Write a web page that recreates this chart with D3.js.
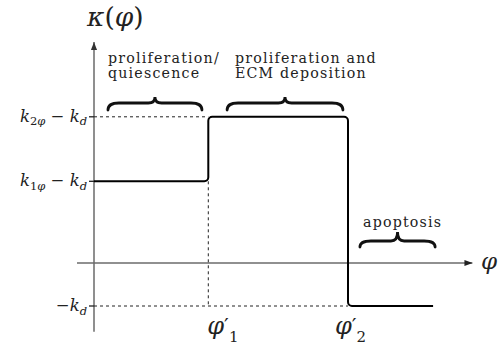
<!DOCTYPE html>
<html>
<head>
<meta charset="utf-8">
<script src="https://cdn.jsdelivr.net/npm/d3@7"></script>
<style>
  html, body { margin: 0; padding: 0; background: #fff; }
  svg { display: block; }
</style>
</head>
<body>
<svg id="chart" width="498" height="350"></svg>
<script>
// Piecewise growth-rate kappa(phi): levels and switch points
const kd = 1.0;
const k1 = 2.9;
const k2 = 4.4;
const phi1 = 0.45;
const phi2 = 1.0;
const phiEnd = 1.335;

// Curve breakpoints [phi, kappa]
const curvePhi = [0, phi1, phi1, phi2, phi2, phiEnd];
const curveKappa = [k1 - kd, k1 - kd, k2 - kd, k2 - kd, -kd, -kd];

// Labelled levels on the vertical axis: [text, style]
const levelValues = [k2 - kd, k1 - kd, -kd];
const levelLabels = [
  [["k", "i"], ["2", "sub"], ["φ", "subi"], [" − ", "r"], ["k", "i"], ["d", "subi"]],
  [["k", "i"], ["1", "sub"], ["φ", "subi"], [" − ", "r"], ["k", "i"], ["d", "subi"]],
  [["−", "r"], ["k", "i"], ["d", "subi"]]
];

// Phases annotated with braces
const phaseNames = [["proliferation/", "quiescence"], ["proliferation and", "ECM deposition"], ["apoptosis"]];
const phaseStart = [0.055, 0.524, 1.047];
const phaseEnd = [0.425, 0.980, 1.343];

const svg = d3.select("#chart");
const x = d3.scaleLinear().domain([0, 1]).range([94, 348]);
const y = d3.scaleLinear().domain([-1, 0]).range([306, 263]);

const serif = "'DejaVu Serif', 'Liberation Serif', serif";

// arrow markers
const defs = svg.append("defs");
function marker(id, color) {
  defs.append("marker")
    .attr("id", id).attr("viewBox", "0 0 10 10")
    .attr("refX", 10).attr("refY", 5)
    .attr("markerWidth", 8).attr("markerHeight", 8)
    .attr("markerUnits", "userSpaceOnUse")
    .attr("orient", "auto")
    .append("path").attr("d", "M0,1.2 L10,5 L0,8.8 Z").attr("fill", color);
}
marker("arrX", "#222");
marker("arrY", "#333");

// axes
svg.append("line")
  .attr("x1", x(-0.067)).attr("x2", x(1.49))
  .attr("y1", y(0)).attr("y2", y(0))
  .attr("stroke", "#222").attr("stroke-width", 1.2)
  .attr("marker-end", "url(#arrX)");
svg.append("line")
  .attr("x1", x(0)).attr("x2", x(0))
  .attr("y1", y(-1.6)).attr("y2", y(5.14))
  .attr("stroke", "#6a6a6a").attr("stroke-width", 1.5)
  .attr("marker-end", "url(#arrY)");

// dashed guides
function dline(x1, y1, x2, y2) {
  svg.append("line").attr("x1", x1).attr("y1", y1).attr("x2", x2).attr("y2", y2)
    .attr("stroke", "#222").attr("stroke-width", 1).attr("stroke-dasharray", "3,3");
}
dline(x(0), y(k2 - kd), x(phi1), y(k2 - kd));
dline(x(phi1), y(k1 - kd), x(phi1), y(-kd));
dline(x(0), y(-kd), x(phi2), y(-kd));

// ticks on the vertical axis
levelValues.forEach(v => {
  svg.append("line")
    .attr("x1", x(0) - 5).attr("x2", x(0))
    .attr("y1", y(v)).attr("y2", y(v))
    .attr("stroke", "#222").attr("stroke-width", 1.3);
});

// kappa(phi) with rounded corners
const pts = curvePhi.map((p, i) => [x(p), y(curveKappa[i])]);
const path = d3.path();
path.moveTo(pts[0][0], pts[0][1]);
for (let i = 1; i < pts.length - 1; i++) {
  path.arcTo(pts[i][0], pts[i][1], pts[i + 1][0], pts[i + 1][1], 4);
}
path.lineTo(pts[pts.length - 1][0], pts[pts.length - 1][1]);
svg.append("path").attr("d", path.toString())
  .attr("fill", "none").attr("stroke", "#000").attr("stroke-width", 2);

// level labels
levelLabels.forEach((parts, i) => {
  const t = svg.append("text")
    .attr("x", x(0) - 7).attr("y", y(levelValues[i]) + 5)
    .attr("text-anchor", "end")
    .attr("font-family", serif).attr("fill", "#222");
  let low = false;
  parts.forEach(([s, kind]) => {
    const ts = t.append("tspan").text(s);
    const isSub = kind.startsWith("sub");
    if (isSub) {
      ts.attr("font-size", 11.5).attr("dy", low ? 0 : 3.5);
      low = true;
    } else {
      ts.attr("font-size", 16.5).attr("dy", low ? -3.5 : 0);
      low = false;
    }
    ts.attr("font-style", (kind === "i" || kind === "subi") ? "italic" : "normal");
  });
});

// phase braces and captions
function brace(x1, x2, yEnd, yBand, yTip) {
  const xm = (x1 + x2) / 2, r = Math.min(11, (x2 - x1) / 6);
  return `M${x1},${yEnd} Q${x1},${yBand} ${x1 + r},${yBand} L${xm - r * 0.6},${yBand} Q${xm},${yBand} ${xm},${yTip} ` +
         `Q${xm},${yBand} ${xm + r * 0.6},${yBand} L${x2 - r},${yBand} Q${x2},${yBand} ${x2},${yEnd}`;
}
const braceY = [[110, 103, 97], [110, 103, 97], [247, 241, 232]];
const captionX = [108, 235, 363];
const captionY = [63, 63, 227];
const lineGap = 14.5;

// annotation text: font size for letter height, slight tracking for width
const annSize = 14.2;
const probe = svg.append("text").attr("font-family", serif).attr("font-size", annSize).text("proliferation and");
const annSpacing = Math.max(0, Math.min(1.2, (143 - probe.node().getComputedTextLength()) / 17));
probe.remove();

phaseNames.forEach((lines, i) => {
  svg.append("path")
    .attr("d", brace(x(phaseStart[i]), x(phaseEnd[i]), ...braceY[i]))
    .attr("fill", "none").attr("stroke", "#111").attr("stroke-width", 2.8)
    .attr("stroke-linecap", "round");
  const t = svg.append("text").attr("x", captionX[i]).attr("y", captionY[i])
    .attr("font-family", serif).attr("font-size", annSize)
    .attr("letter-spacing", annSpacing).attr("fill", "#222");
  lines.forEach((s, j) => {
    t.append("tspan").attr("x", captionX[i]).attr("dy", j === 0 ? 0 : lineGap).text(s);
  });
});

// axis titles
const title = svg.append("text").attr("x", 87).attr("y", 26)
  .attr("font-family", serif).attr("font-size", 26.5).attr("fill", "#222");
title.append("tspan").attr("font-style", "italic").text("κ");
title.append("tspan").text("(");
title.append("tspan").attr("font-style", "italic").text("φ");
title.append("tspan").text(")");

svg.append("text").attr("x", 481).attr("y", 269)
  .attr("font-family", serif).attr("font-size", 23).attr("font-style", "italic")
  .attr("fill", "#222").text("φ");

// phi' with subscript
function phiPrime(px, sub) {
  const t = svg.append("text").attr("x", px).attr("y", 334)
    .attr("font-family", serif).attr("fill", "#222");
  t.append("tspan").attr("font-size", 24).attr("font-style", "italic").text("φ");
  t.append("tspan").attr("font-size", 21).attr("dy", -1).text("′");
  t.append("tspan").attr("font-size", 15).attr("dy", 9).text(sub);
}
phiPrime(x(phi1) - 1, "1");
phiPrime(x(phi2) - 13, "2");
</script>
</body>
</html>
